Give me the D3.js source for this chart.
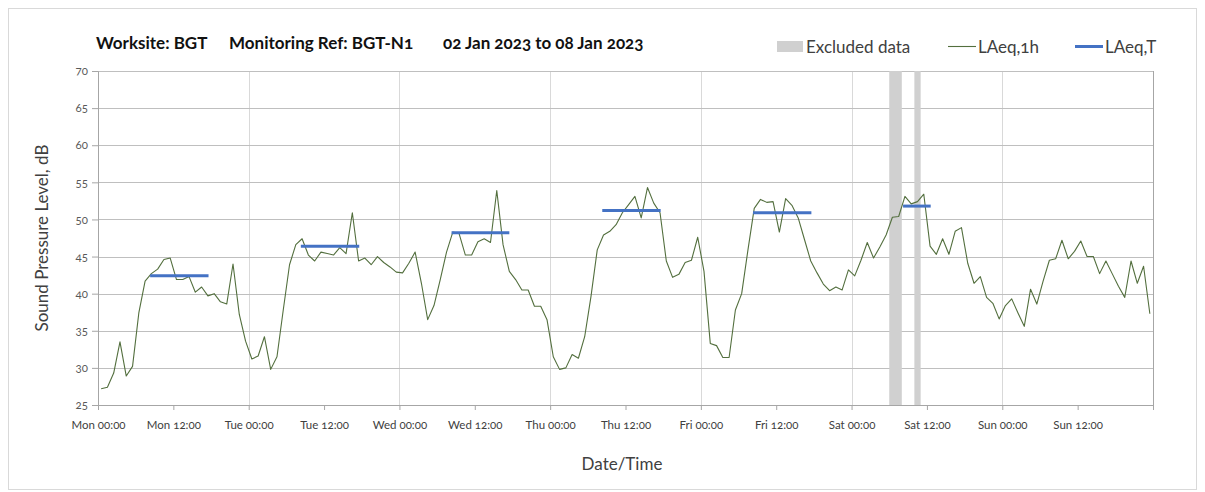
<!DOCTYPE html>
<html>
<head>
<meta charset="utf-8">
<script src="https://cdn.jsdelivr.net/npm/d3@7"></script>
<style>
  body { margin: 0; background: #fff; }
  text { font-family: Lato, "Open Sans", sans-serif; font-variant-numeric: oldstyle-nums; }
</style>
</head>
<body>
<script>
// Chart data
//= ================================
// hourly LAeq,1h values, Mon 00:00 .. Sun 23:00 (168 hours)
var laeq1h = [
  27.2, 27.4, 29.3, 33.5, 28.9, 30.2, 37.4, 41.7, 42.7, 43.3, 44.6, 44.8,
  41.9, 41.9, 42.3, 40.2, 40.9, 39.7, 40.0, 38.9, 38.6, 44.0, 37.2, 33.6,
  31.2, 31.6, 34.2, 29.8, 31.5, 37.8, 43.9, 46.6, 47.4, 45.2, 44.4, 45.6,
  45.4, 45.2, 46.2, 45.4, 50.9, 44.4, 44.8, 43.9, 45.0, 44.2, 43.6, 42.9,
  42.8, 44.1, 45.6, 41.4, 36.5, 38.4, 41.9, 45.6, 48.3, 48.1, 45.2, 45.2,
  47.0, 47.4, 46.9, 53.9, 46.6, 43.0, 41.9, 40.5, 40.5, 38.3, 38.3, 36.5,
  31.5, 29.8, 30.0, 31.8, 31.3, 34.2, 39.6, 45.9, 47.9, 48.4, 49.3, 50.9,
  52.0, 53.1, 50.2, 54.3, 52.2, 50.9, 44.4, 42.2, 42.6, 44.2, 44.5, 47.6,
  43.0, 33.3, 33.0, 31.4, 31.4, 37.8, 40.0, 45.9, 51.5, 52.7, 52.3, 52.4,
  48.3, 52.8, 51.9, 50.2, 47.3, 44.4, 42.8, 41.3, 40.4, 40.9, 40.5, 43.2,
  42.4, 44.5, 46.9, 44.8, 46.3, 47.9, 50.3, 50.4, 53.1, 52.1, 52.4, 53.4,
  46.4, 45.3, 47.4, 45.3, 48.4, 48.9, 44.1, 41.4, 42.3, 39.5, 38.7, 36.6,
  38.4, 39.3, 37.4, 35.6, 40.6, 38.6, 41.7, 44.5, 44.7, 47.2, 44.7, 45.7,
  47.1, 45.0, 45.0, 42.7, 44.4, 42.7, 41.0, 39.5, 44.4, 41.4, 43.7, 37.3
];

// LAeq,T periods (hours from Mon 00:00) and levels
var periodStart = [8.3, 32.3, 56.3, 80.3, 104.3, 128.2];
var periodEnd = [17.6, 41.6, 65.5, 89.6, 113.6, 132.6];
var periodLevel = [42.4, 46.4, 48.2, 51.2, 50.9, 51.8];

// excluded data (hours from Mon 00:00)
var excludedStart = [126, 130];
var excludedEnd = [128, 131];

var tickLabels = ["Mon 00:00", "Mon 12:00", "Tue 00:00", "Tue 12:00", "Wed 00:00", "Wed 12:00",
  "Thu 00:00", "Thu 12:00", "Fri 00:00", "Fri 12:00", "Sat 00:00", "Sat 12:00", "Sun 00:00", "Sun 12:00"];
var yTicks = [25, 30, 35, 40, 45, 50, 55, 60, 65, 70];

// Step 1: Set up our chart
//= ================================
var svgWidth = 1205;
var svgHeight = 492;

var margin = { top: 71, right: 52, bottom: 87, left: 98 };
var width = svgWidth - margin.left - margin.right;
var height = svgHeight - margin.top - margin.bottom;

var svg = d3.select("body")
  .append("svg")
  .attr("width", svgWidth)
  .attr("height", svgHeight);

// outer frame
svg.append("rect")
  .attr("x", 8.5).attr("y", 8.5)
  .attr("width", 1188).attr("height", 481)
  .attr("fill", "none")
  .attr("stroke", "#d9d9d9");

var chartGroup = svg.append("g")
  .attr("transform", `translate(${margin.left}, ${margin.top})`);

var xScale = d3.scaleLinear().domain([0, 168]).range([0, width]);
var yScale = d3.scaleLinear().domain([25, 70]).range([height, 0]);

// Step 2: grid
//= ================================
chartGroup.append("g")
  .selectAll("line")
  .data(d3.range(24, 168, 24))
  .enter()
  .append("line")
  .attr("x1", d => Math.round(xScale(d)) + 0.5)
  .attr("x2", d => Math.round(xScale(d)) + 0.5)
  .attr("y1", 0)
  .attr("y2", height)
  .attr("stroke", "#d9d9d9");

chartGroup.append("g")
  .selectAll("line")
  .data(yTicks.slice(1))
  .enter()
  .append("line")
  .attr("x1", 0)
  .attr("x2", width)
  .attr("y1", d => Math.round(yScale(d)) + 0.5)
  .attr("y2", d => Math.round(yScale(d)) + 0.5)
  .attr("stroke", "#bfbfbf");

// right border of plot
chartGroup.append("line")
  .attr("x1", Math.round(width) + 0.5).attr("x2", Math.round(width) + 0.5)
  .attr("y1", 0).attr("y2", height)
  .attr("stroke", "#a6a6a6");

// excluded data bands
chartGroup.append("g")
  .selectAll("rect")
  .data(excludedStart)
  .enter()
  .append("rect")
  .attr("x", (d, i) => xScale(d))
  .attr("width", (d, i) => xScale(excludedEnd[i]) - xScale(d))
  .attr("y", 0)
  .attr("height", height)
  .attr("fill", "#d0d0d0");

// Step 3: axes
//= ================================
var bottomAxis = d3.axisBottom(xScale)
  .tickValues(d3.range(0, 169, 12))
  .tickSize(5)
  .tickFormat((d, i) => tickLabels[i] || "");

var leftAxis = d3.axisLeft(yScale)
  .tickValues(yTicks)
  .tickSize(6)
  .tickFormat(d3.format("d"));

var xAxis = chartGroup.append("g")
  .attr("transform", `translate(0, ${height})`)
  .call(bottomAxis);

xAxis.select(".domain").attr("stroke", "#a6a6a6");
xAxis.selectAll(".tick line").attr("stroke", "#a6a6a6");
xAxis.selectAll(".tick text")
  .attr("dy", "1.35em")
  .attr("fill", "#404040")
  .style("font-size", "11.5px");

var yAxis = chartGroup.append("g")
  .call(leftAxis);

yAxis.select(".domain").attr("stroke", "#a6a6a6");
yAxis.selectAll(".tick line").attr("stroke", "#a6a6a6");
yAxis.selectAll(".tick text")
  .attr("x", -10)
  .attr("fill", "#595959")
  .style("font-size", "11.5px");

// Step 4: lines
//= ================================
var line = d3.line()
  .x((d, i) => xScale(i + 0.5))
  .y(d => yScale(d));

chartGroup.append("path")
  .datum(laeq1h)
  .attr("d", line)
  .attr("fill", "none")
  .attr("stroke", "#536f3e")
  .attr("stroke-width", 1.1)
  .attr("stroke-linejoin", "round");

chartGroup.append("g")
  .selectAll("line")
  .data(periodLevel)
  .enter()
  .append("line")
  .attr("x1", (d, i) => xScale(periodStart[i]))
  .attr("x2", (d, i) => xScale(periodEnd[i]))
  .attr("y1", d => yScale(d))
  .attr("y2", d => yScale(d))
  .attr("stroke", "#4472c4")
  .attr("stroke-width", 3);

// Step 5: titles and legend
//= ================================
chartGroup.append("text")
  .attr("transform", "rotate(-90)")
  .attr("x", 0 - (height / 2))
  .attr("y", -50)
  .attr("text-anchor", "middle")
  .attr("fill", "#404040")
  .style("font-size", "17px")
  .text("Sound Pressure Level, dB");

chartGroup.append("text")
  .attr("x", 524)
  .attr("y", height + 65)
  .attr("text-anchor", "middle")
  .attr("fill", "#404040")
  .style("font-size", "17px")
  .text("Date/Time");

var title = svg.append("text")
  .attr("y", 49)
  .attr("fill", "#111")
  .style("font-size", "17px")
  .style("font-weight", "bold");
title.append("tspan").attr("x", 96).text("Worksite: BGT");
title.append("tspan").attr("x", 229).text("Monitoring Ref: BGT-N1");
title.append("tspan").attr("x", 443).text("02 Jan 2023 to 08 Jan 2023");

var legend = svg.append("g");
legend.append("rect")
  .attr("x", 777).attr("y", 41)
  .attr("width", 26).attr("height", 11)
  .attr("fill", "#d0d0d0");
legend.append("text")
  .attr("x", 806).attr("y", 52.5)
  .attr("fill", "#404040")
  .style("font-size", "17px")
  .text("Excluded data");

legend.append("line")
  .attr("x1", 948).attr("x2", 976)
  .attr("y1", 46.5).attr("y2", 46.5)
  .attr("stroke", "#536f3e")
  .attr("stroke-width", 1.1);
legend.append("text")
  .attr("x", 978).attr("y", 52.5)
  .attr("fill", "#404040")
  .style("font-size", "17px")
  .text("LAeq,1h");

legend.append("line")
  .attr("x1", 1075).attr("x2", 1103)
  .attr("y1", 46.5).attr("y2", 46.5)
  .attr("stroke", "#4472c4")
  .attr("stroke-width", 3);
legend.append("text")
  .attr("x", 1105).attr("y", 52.5)
  .attr("fill", "#404040")
  .style("font-size", "17px")
  .text("LAeq,T");
</script>
</body>
</html>
